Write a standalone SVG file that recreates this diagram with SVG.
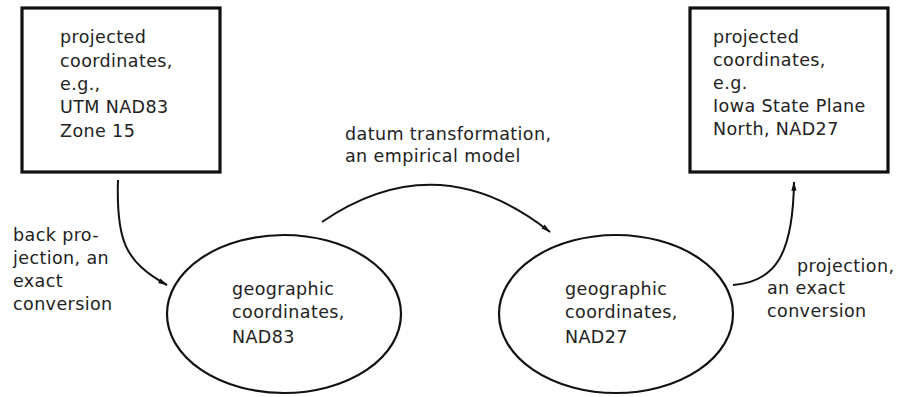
<svg xmlns="http://www.w3.org/2000/svg" width="901" height="397" viewBox="0 0 901 397">
  <style>
    .box { fill: #fff; stroke: #111; stroke-width: 3.2; }
    .ell { fill: none; stroke: #111; stroke-width: 2.2; }
    .txt { font-family: "DejaVu Sans", "Noto Sans", sans-serif; font-size: 17.5px; letter-spacing: 0.4px; fill: #222; }
    .edge { fill: none; stroke: #111; stroke-width: 2; marker-end: url(#arrow); }
  </style>
  <defs>
    <marker id="arrow" viewBox="0 0 12 10" refX="11" refY="5" markerWidth="11" markerHeight="8" markerUnits="userSpaceOnUse" orient="auto">
      <path d="M0,1.8 L12,5 L0,8.2 z" fill="#111"/>
    </marker>
  </defs>
  <rect width="901" height="397" fill="#fff"/>

  <g id="utm-box">
    <rect class="box" x="22" y="8" width="198" height="164"/>
    <text class="txt">
      <tspan x="60" y="43">projected</tspan>
      <tspan x="60" y="67">coordinates,</tspan>
      <tspan x="60" y="90">e.g.,</tspan>
      <tspan x="60" y="113">UTM NAD83</tspan>
      <tspan x="60" y="137">Zone 15</tspan>
    </text>
  </g>

  <g id="stateplane-box">
    <rect class="box" x="690" y="8" width="198" height="164"/>
    <text class="txt">
      <tspan x="713" y="43">projected</tspan>
      <tspan x="713" y="66">coordinates,</tspan>
      <tspan x="713" y="89">e.g.</tspan>
      <tspan x="713" y="112">Iowa State Plane</tspan>
      <tspan x="713" y="135">North, NAD27</tspan>
    </text>
  </g>

  <g id="geo-nad83">
    <ellipse class="ell" cx="284" cy="314" rx="117" ry="79"/>
    <text class="txt">
      <tspan x="232" y="295">geographic</tspan>
      <tspan x="232" y="318">coordinates,</tspan>
      <tspan x="232" y="343">NAD83</tspan>
    </text>
  </g>

  <g id="geo-nad27">
    <ellipse class="ell" cx="616" cy="314" rx="117" ry="79"/>
    <text class="txt">
      <tspan x="565" y="295">geographic</tspan>
      <tspan x="565" y="318">coordinates,</tspan>
      <tspan x="565" y="343">NAD27</tspan>
    </text>
  </g>

  <g id="connectors">
    <path class="edge" d="M118,180 C116,240 125,262 167,285"/>
    <path class="edge" d="M322,222 Q438,143 550,232"/>
    <path class="edge" d="M733,285 C775,282 793,255 794,182"/>

    <text class="txt">
      <tspan x="13" y="241">back pro-</tspan>
      <tspan x="13" y="264">jection, an</tspan>
      <tspan x="13" y="287">exact</tspan>
      <tspan x="13" y="310">conversion</tspan>
    </text>
    <text class="txt">
      <tspan x="345" y="140">datum transformation,</tspan>
      <tspan x="345" y="162">an empirical model</tspan>
    </text>
    <text class="txt">
      <tspan x="797" y="272">projection,</tspan>
      <tspan x="767" y="294">an exact</tspan>
      <tspan x="767" y="317">conversion</tspan>
    </text>
  </g>
</svg>
